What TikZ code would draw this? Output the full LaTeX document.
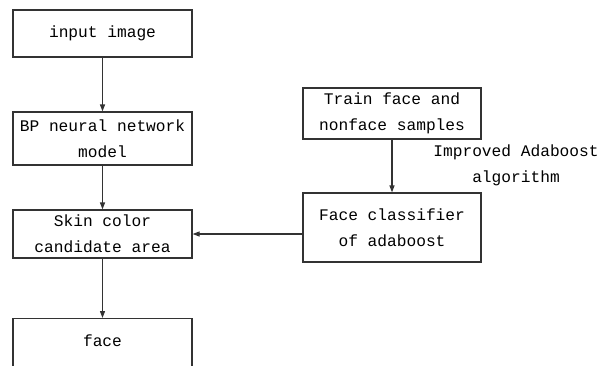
\documentclass[tikz,border=0pt]{standalone}
\usepackage{fontspec}
\setmonofont{Liberation Mono}
\usetikzlibrary{arrows.meta}

\begin{document}
\begin{tikzpicture}[
  x=1pt, y=-1pt,
  txt/.style={align=center, font=\fontsize{16.2}{26}\selectfont\ttfamily},
  box/.style={txt, draw=black!80, line width=1.2pt, inner sep=0pt, minimum width=179pt},
  arrow/.style={-{Triangle[length=7pt,width=5pt]}, draw=black!80, line width=1.2pt}
]
\useasboundingbox (0,0) rectangle (613,365);
\node[box, minimum height=47pt] (input) at (102.5,33.5) {input image};
\node[box, minimum height=53pt] (bp) at (102.5,138.5) {BP neural network\\model};
\node[box, minimum height=48pt] (skin) at (102.5,234) {Skin color\\candidate area};
\node[box, anchor=north, text height=28pt, text depth=60pt] (face) at (102.5,318) {face};
\node[box, minimum width=178pt, minimum height=51pt] (train) at (392,113.5) {Train face and\\nonface samples};
\node[box, minimum width=178pt, minimum height=69pt] (clf) at (392,227.5) {Face classifier\\of adaboost};
\node[txt] (algo) at (516,165) {Improved Adaboost\\algorithm};

\draw[arrow] (input) -- (bp);
\draw[arrow] (bp) -- (skin);
\draw[arrow] (skin) -- (face);
\draw[arrow] (train) -- (clf);
\draw[arrow] (clf.west |- skin.east) -- (skin.east);
\end{tikzpicture}
\end{document}
